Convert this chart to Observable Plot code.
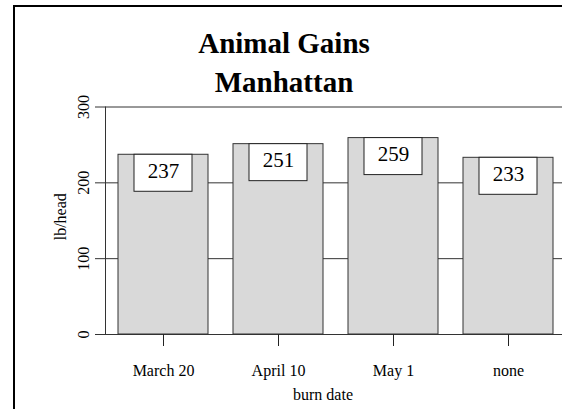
<!DOCTYPE html>
<html>
<head>
<meta charset="utf-8">
<script src="https://cdn.jsdelivr.net/npm/d3@7"></script>
<script src="https://cdn.jsdelivr.net/npm/@observablehq/plot@0.6"></script>
<style>
  html, body { margin: 0; padding: 0; background: #fff; overflow: hidden; width: 562px; height: 409px; }
  #wrap { position: relative; width: 562px; height: 409px; overflow: hidden;
          font-family: "Liberation Serif", "Times New Roman", serif; }
  #border { position: absolute; left: 13px; top: 5px; width: 700px; height: 600px;
            border-left: 2.5px solid #000; border-top: 2px solid #000; z-index: 2; pointer-events: none; }
  #title { position: relative; width: 568px; height: 100px; box-sizing: border-box; padding-top: 24.3px;
           text-align: center; font-weight: bold; font-size: 29px; line-height: 38.4px; color: #000; }
  #chart { width: 562px; height: 309px; }
  #chart svg { display: block; max-width: none !important; }
</style>
</head>
<body>
<div id="wrap">
  <div id="border"></div>
  <div id="title"></div>
  <div id="chart"></div>
</div>
<script>
const titleLines = ["Animal Gains", "Manhattan"];
const dates = ["March 20", "April 10", "May 1", "none"];
const gains = [237, 251, 259, 233];
const yTicks = [0, 100, 200, 300];
const xLabel = "burn date";
const yLabel = "lb/head";

const data = dates.map((d, i) => ({date: d, gain: gains[i]}));

const titleEl = document.getElementById("title");
titleLines.forEach((t, i) => {
  if (i) titleEl.appendChild(document.createElement("br"));
  titleEl.appendChild(document.createTextNode(t));
});

const serif = "Liberation Serif";

const chart = Plot.plot({
  width: 562,
  height: 309,
  marginLeft: 105,
  marginRight: 0,
  marginTop: 6.5,
  marginBottom: 75,
  style: {fontFamily: serif, fontSize: "16px", color: "#000", background: "transparent", overflow: "visible"},
  x: {type: "band", domain: dates, range: [105, 565], paddingInner: 0.22, paddingOuter: 0.11, align: 0.5, label: null},
  y: {domain: [0, 300], label: null},
  marks: [
    Plot.ruleY(yTicks, {stroke: "#333", strokeWidth: 1}),
    Plot.barY(data, {x: "date", y: "gain", fill: "#d9d9d9", stroke: "#333", strokeWidth: 1}),
    Plot.barY(data, {x: "date", y1: "gain", y2: "gain", insetBottom: -37, insetLeft: 16, insetRight: 16,
                     fill: "white", stroke: "#222", strokeWidth: 1}),
    Plot.text(data, {x: "date", y: "gain", text: d => String(d.gain), lineAnchor: "bottom", dy: 23,
                     fontSize: 21, fontFamily: serif, fill: "#000"}),
    Plot.frame({anchor: "left", stroke: "#333"}),
    Plot.axisY({ticks: yTicks, tickSize: 10, tickPadding: 7, tickRotate: -90, label: null, stroke: "#333",
                fontFamily: serif}),
    Plot.axisX({tickSize: 12, tickPadding: 18, label: null, stroke: "#222", fontFamily: serif}),
    Plot.text([xLabel], {frameAnchor: "bottom", text: d => d, lineAnchor: "bottom", dy: 65, dx: -11,
                         fontFamily: serif, fill: "#000"}),
    Plot.text([yLabel], {frameAnchor: "left", text: d => d, rotate: -90, textAnchor: "middle", lineAnchor: "bottom",
                         dx: -40, dy: -4, fontFamily: serif, fill: "#000"})
  ]
});
document.getElementById("chart").appendChild(chart);
</script>
</body>
</html>
